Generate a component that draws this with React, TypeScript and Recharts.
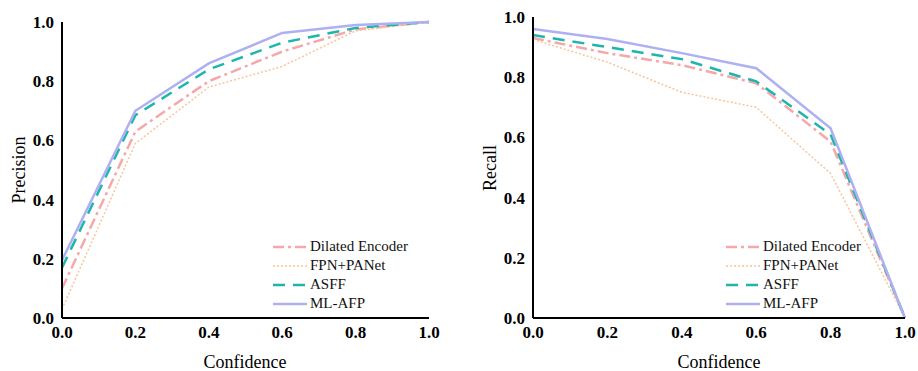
import React from "react";
import { LineChart, Line, XAxis, YAxis } from "recharts";

// Confidence thresholds shared by both panels
const confidence = [0, 0.2, 0.4, 0.6, 0.8, 1.0];
const axisTicks = [0, 0.2, 0.4, 0.6, 0.8, 1.0];

// Precision vs confidence
const precisionDilated = [0.1, 0.63, 0.8, 0.9, 0.975, 1.0];
const precisionFpn = [0.03, 0.59, 0.78, 0.85, 0.97, 1.0];
const precisionAsff = [0.17, 0.685, 0.84, 0.93, 0.98, 1.0];
const precisionMlAfp = [0.195, 0.7, 0.86, 0.963, 0.99, 1.0];

// Recall vs confidence
const recallDilated = [0.93, 0.88, 0.84, 0.78, 0.586, 0];
const recallFpn = [0.925, 0.85, 0.75, 0.7, 0.48, 0];
const recallAsff = [0.94, 0.9, 0.86, 0.786, 0.61, 0];
const recallMlAfp = [0.96, 0.927, 0.88, 0.83, 0.63, 0];

const seriesNames = ["Dilated Encoder", "FPN+PANet", "ASFF", "ML-AFP"];

const seriesStyle = [
  { key: "dilated", color: "#f5a8a8", dash: "11 4 3 4", width: 2.5 },
  { key: "fpn", color: "#f9c49a", dash: "2 2", width: 1.5 },
  { key: "asff", color: "#1fb5ad", dash: "12 8", width: 2.5 },
  { key: "mlafp", color: "#aeb0f2", dash: undefined, width: 2.5 },
];

const FONT = "Liberation Serif, serif";

const buildRows = (cols: number[][]) =>
  confidence.map((c, i) => ({
    x: c,
    dilated: cols[0][i],
    fpn: cols[1][i],
    asff: cols[2][i],
    mlafp: cols[3][i],
  }));

const precisionRows = buildRows([precisionDilated, precisionFpn, precisionAsff, precisionMlAfp]);
const recallRows = buildRows([recallDilated, recallFpn, recallAsff, recallMlAfp]);

const XTick = (props: any) => {
  const { x, y, payload } = props;
  return (
    <text x={x} y={y + 12} textAnchor="middle" style={{ fontFamily: FONT, fontSize: 17, fontWeight: 700 }} fill="#000">
      {Number(payload.value).toFixed(1)}
    </text>
  );
};

const YTick = (props: any) => {
  const { x, y, payload } = props;
  return (
    <text x={x} y={y + 6} textAnchor="end" style={{ fontFamily: FONT, fontSize: 17, fontWeight: 700 }} fill="#000">
      {Number(payload.value).toFixed(1)}
    </text>
  );
};

const LegendBox = ({ left }: { left: number }) => (
  <div style={{ position: "absolute", left, top: 237, fontFamily: FONT, fontSize: 15, color: "#111" }}>
    {seriesNames.map((name, i) => (
      <div key={name} style={{ display: "flex", alignItems: "center", height: 19 }}>
        <svg width={34} height={10} style={{ marginRight: 3 }}>
          <line
            x1={0}
            y1={5}
            x2={34}
            y2={5}
            stroke={seriesStyle[i].color}
            strokeWidth={seriesStyle[i].width}
            strokeDasharray={seriesStyle[i].dash}
          />
        </svg>
        <span style={{ lineHeight: "19px", whiteSpace: "nowrap" }}>{name}</span>
      </div>
    ))}
  </div>
);

type PanelProps = {
  rows: any[];
  width: number;
  margin: { top: number; right: number; left: number; bottom: number };
  legendLeft: number;
  yTitle: string;
  yTitleX: number;
  yTitleY: number;
  xTitleX: number;
};

const Panel = ({ rows, width, margin, legendLeft, yTitle, yTitleX, yTitleY, xTitleX }: PanelProps) => (
  <div style={{ position: "relative", width, height: 371 }}>
    <LineChart width={width} height={371} data={rows} margin={margin}>
      <XAxis
        dataKey="x"
        type="number"
        domain={[0, 1]}
        ticks={axisTicks}
        tick={<XTick />}
        tickLine={false}
        axisLine={{ stroke: "#000", strokeWidth: 2 }}
        height={30}
        interval={0}
      />
      <YAxis
        type="number"
        domain={[0, 1]}
        ticks={axisTicks}
        tick={<YTick />}
        tickLine={false}
        axisLine={{ stroke: "#000", strokeWidth: 2 }}
        width={40}
        interval={0}
      />
      {seriesStyle.map((s, i) => (
        <Line
          key={s.key}
          type="linear"
          dataKey={s.key}
          name={seriesNames[i]}
          stroke={s.color}
          strokeWidth={s.width}
          strokeDasharray={s.dash}
          dot={false}
          activeDot={false}
          isAnimationActive={false}
        />
      ))}
    </LineChart>
    <LegendBox left={legendLeft} />
    <div
      style={{
        position: "absolute",
        left: yTitleX,
        top: yTitleY,
        transform: "translate(-50%, -50%) rotate(-90deg)",
        fontFamily: FONT,
        fontSize: 18,
        whiteSpace: "nowrap",
      }}
    >
      {yTitle}
    </div>
    <div
      style={{
        position: "absolute",
        left: xTitleX,
        top: 362,
        transform: "translate(-50%, -50%)",
        fontFamily: FONT,
        fontSize: 18,
        whiteSpace: "nowrap",
      }}
    >
      Confidence
    </div>
  </div>
);

export default function App() {
  return (
    <div
      style={{
        position: "absolute",
        left: 0,
        top: 0,
        width: 918,
        height: 371,
        background: "#fff",
        display: "flex",
        overflow: "hidden",
      }}
    >
      <Panel
        rows={precisionRows}
        width={460}
        margin={{ top: 22, right: 31, left: 22, bottom: 23 }}
        legendLeft={273}
        yTitle="Precision"
        yTitleX={19}
        yTitleY={170}
        xTitleX={245}
      />
      <Panel
        rows={recallRows}
        width={458}
        margin={{ top: 17, right: 13, left: 33, bottom: 23 }}
        legendLeft={266}
        yTitle="Recall"
        yTitleX={30}
        yTitleY={168}
        xTitleX={259}
      />
    </div>
  );
}
